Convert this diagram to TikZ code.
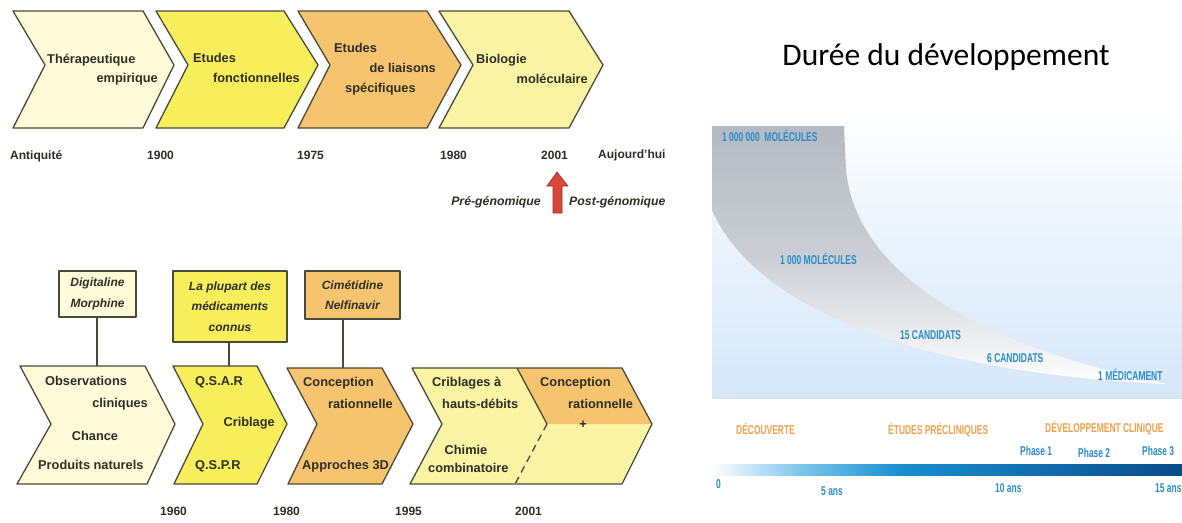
\documentclass[tikz,border=0pt]{standalone}
\usepackage{fontspec}
\setmainfont{Liberation Sans}
\newfontfamily\narrowfont[FakeStretch=0.66]{Liberation Sans Bold}
\newfontfamily\titlefont{Carlito}
\definecolor{edgec}{HTML}{4A4A3C}
\definecolor{txt}{HTML}{2E2E26}
\definecolor{creamc}{HTML}{FFFBD8}
\definecolor{yellowc}{HTML}{F8EE5C}
\definecolor{orangec}{HTML}{F6C46E}
\definecolor{lightyc}{HTML}{FBF3A4}
\definecolor{redc}{HTML}{D9463A}
\definecolor{bluet}{HTML}{2A8CC8}
\definecolor{oranget}{HTML}{F0A048}
\definecolor{bgblue}{HTML}{D6E7F9}
\definecolor{funnelg}{HTML}{B4BAC2}
\definecolor{barlight}{HTML}{7CC6EC}
\definecolor{barmid}{HTML}{1A8ED0}
\definecolor{barend}{HTML}{0A4C8A}
\tikzset{
  outl/.style={draw=edgec, line width=1.3pt, line join=round},
  lt/.style={font=\bfseries\fontsize{12.8}{14}\selectfont, text=txt, inner sep=0pt},
  yr/.style={font=\bfseries\fontsize{12}{14}\selectfont, text=txt, inner sep=0pt},
  boxst/.style={outl, font=\bfseries\itshape\fontsize{12}{20.5}\selectfont, text=txt, align=center, inner sep=2pt},
  bl/.style={font=\narrowfont\fontsize{12.8}{14}\selectfont, text=bluet, inner sep=0pt},
  ol/.style={font=\narrowfont\fontsize{12.8}{14}\selectfont, text=oranget, inner sep=0pt},
}
\begin{document}
\begin{tikzpicture}[x=1pt,y=-1pt]
\useasboundingbox (0,0) rectangle (1182,522);
\fill[white] (0,0) rectangle (1182,522);

% ---------- top row chevrons ----------
\path[outl, fill=creamc] (13,11) -- (143,11) -- (174,65) -- (143,128) -- (13,128) -- (45,65) -- cycle;
\path[outl, fill=yellowc] (156,11) -- (284,11) -- (318,65) -- (284,128) -- (156,128) -- (188,65) -- cycle;
\path[outl, fill=orangec] (298,11) -- (427,11) -- (461,65) -- (427,128) -- (298,128) -- (330,65) -- cycle;
\path[outl, fill=lightyc] (439,11) -- (569,11) -- (603,65) -- (569,128) -- (439,128) -- (473,65) -- cycle;

\node[lt, anchor=mid west] (t1a) at (47,61) {Thérapeutique};
\node[lt, anchor=mid east] (t1b) at (158,80) {empirique};
\node[lt, anchor=mid west] (t2a) at (193,60) {Etudes};
\node[lt, anchor=mid east] (t2b) at (300,80) {fonctionnelles};
\node[lt, anchor=mid west] (t3a) at (334,50) {Etudes};
\node[lt, anchor=mid east] (t3b) at (436,70) {de liaisons};
\node[lt, anchor=mid west] (t3c) at (345,90) {spécifiques};
\node[lt, anchor=mid west] (t4a) at (476,61) {Biologie};
\node[lt, anchor=mid east] (t4b) at (588,81) {moléculaire};

\node[yr, anchor=mid west] (y1) at (10,157) {Antiquité};
\node[yr, anchor=mid west] (y2) at (147,157) {1900};
\node[yr, anchor=mid west] (y3) at (297,157) {1975};
\node[yr, anchor=mid west] (y4) at (440,157) {1980};
\node[yr, anchor=mid west] (y5) at (541,157) {2001};
\node[yr, anchor=mid west] (y6) at (598,156) {Aujourd'hui};

\path[fill=redc, draw=redc!70!black, line width=0.6pt] (557,172) -- (568,186) -- (562,186) -- (562,213) -- (553,213) -- (553,186) -- (547,186) -- cycle;
\node[font=\bfseries\itshape\fontsize{12.3}{14}\selectfont, text=txt, inner sep=0pt, anchor=mid east] (pre) at (541,203) {Pré-génomique};
\node[font=\bfseries\itshape\fontsize{12.3}{14}\selectfont, text=txt, inner sep=0pt, anchor=mid west] (post) at (569,203) {Post-génomique};

% ---------- bottom row ----------
\node[boxst, fill=creamc, minimum width=77pt, minimum height=46pt] (bx1) at (97.5,294) {Digitaline\\Morphine};
\node[boxst, fill=yellowc, minimum width=114pt, minimum height=71pt] (bx2) at (230,306.5) {La plupart des\\médicaments\\connus};
\node[boxst, fill=orangec, minimum width=95pt, minimum height=48pt] (bx3) at (352.5,295) {Cimétidine\\Nelfinavir};

\coordinate (c1top) at (97,366);
\coordinate (c2top) at (229,366);
\coordinate (c3top) at (343,368);
\draw[outl] (bx1.south -| c1top) -- (c1top);
\draw[outl] (bx2.south -| c2top) -- (c2top);
\draw[outl] (bx3.south -| c3top) -- (c3top);

\path[outl, fill=creamc] (20,366) -- (145,366) -- (175,424) -- (147,484) -- (17,484) -- (51,424) -- cycle;
\path[outl, fill=yellowc] (173,366) -- (257,366) -- (287,424) -- (257,484) -- (174,484) -- (203,424) -- cycle;
\path[outl, fill=orangec] (287,368) -- (382,368) -- (413,424) -- (382,484) -- (288,484) -- (317,424) -- cycle;
\path[fill=lightyc] (412,368) -- (622,368) -- (652,424) -- (622,484) -- (410,484) -- (442,424) -- cycle;
\path[fill=orangec] (517,368) -- (622,368) -- (652,424) -- (547,424) -- cycle;
\draw[outl] (517,368) -- (547,424);
\draw[edgec, line width=1.3pt, dash pattern=on 7pt off 5pt] (547,424) -- (515,484);
\path[outl] (412,368) -- (622,368) -- (652,424) -- (622,484) -- (410,484) -- (442,424) -- cycle;

\node[lt, anchor=mid west] (b1a) at (45,383) {Observations};
\node[lt, anchor=mid east] (b1b) at (148,405) {cliniques};
\node[lt] (b1c) at (95,436) {Chance};
\node[lt, anchor=mid west] (b1d) at (38,467) {Produits naturels};
\node[lt, anchor=mid west] (b2a) at (195,383) {Q.S.A.R};
\node[lt, anchor=mid east] (b2b) at (275,424) {Criblage};
\node[lt, anchor=mid west] (b2c) at (195,467) {Q.S.P.R};
\node[lt, anchor=mid west] (b3a) at (303,384) {Conception};
\node[lt, anchor=mid east] (b3b) at (393,406) {rationnelle};
\node[lt, anchor=mid west] (b3c) at (302,467) {Approches 3D};
\node[lt, anchor=mid west] (b4a) at (432,384) {Criblages à};
\node[lt, anchor=mid west] (b4b) at (442,406) {hauts-débits};
\node[lt] (b4c) at (466,450) {Chimie};
\node[lt, anchor=mid west] (b4d) at (428,470) {combinatoire};
\node[lt, anchor=mid west] (b5a) at (540,384) {Conception};
\node[lt, anchor=mid west] (b5b) at (568,406) {rationnelle};
\node[lt] (b5c) at (583,425) {+};

\node[yr, anchor=mid west] (z1) at (160,513) {1960};
\node[yr, anchor=mid west] (z2) at (273,513) {1980};
\node[yr, anchor=mid west] (z3) at (395,513) {1995};
\node[yr, anchor=mid west] (z4) at (515,513) {2001};

% ---------- right panel ----------
\node[font=\titlefont\fontsize{31.5}{36}\selectfont, text=black, inner sep=0pt, anchor=base] (title) at (946,65) {Durée du développement};

\shade[top color=white, bottom color=bgblue, middle color=white!45!bgblue] (712,110) rectangle (1182,398);
\shade[top color=funnelg, bottom color=white, middle color=funnelg!70!white]
  (712,126) -- (844,126) -- (846,170) .. controls (855,260) and (950,340) .. (1167,384)
  .. controls (950,375) and (760,320) .. (712,210) -- cycle;

\node[bl, anchor=mid west] (f1) at (722,139) {1 000 000\ \ MOLÉCULES};
\node[bl, anchor=mid west] (f2) at (780,262) {1 000 MOLÉCULES};
\node[bl, anchor=mid west] (f3) at (900,337) {15 CANDIDATS};
\node[bl, anchor=mid west] (f4) at (987,360) {6 CANDIDATS};
\node[bl, anchor=mid west] (f5) at (1098,378) {1 MÉDICAMENT};

\node[ol, anchor=mid west] (p1) at (736,432) {DÉCOUVERTE};
\node[ol, anchor=mid west] (p2) at (888,432) {ÉTUDES PRÉCLINIQUES};
\node[ol, anchor=mid west] (p3) at (1045,430) {DÉVELOPPEMENT CLINIQUE};
\node[bl, anchor=mid west] (ph1) at (1020,453) {Phase 1};
\node[bl, anchor=mid west] (ph2) at (1078,455) {Phase 2};
\node[bl, anchor=mid west] (ph3) at (1142,453) {Phase 3};

\shade[left color=white, right color=barlight] (712,464) rectangle (800.5,475);
\shade[left color=barlight, right color=barmid] (800,464) rectangle (900.5,475);
\shade[left color=barmid, right color=barend] (900,464) rectangle (1182,475);

\node[bl, anchor=mid west] (a0) at (716,486) {0};
\node[bl, anchor=mid west] (a5) at (821,493) {5 ans};
\node[bl, anchor=mid west] (a10) at (995,490) {10 ans};
\node[bl, anchor=mid west] (a15) at (1155,490) {15 ans};
\end{tikzpicture}
\end{document}
